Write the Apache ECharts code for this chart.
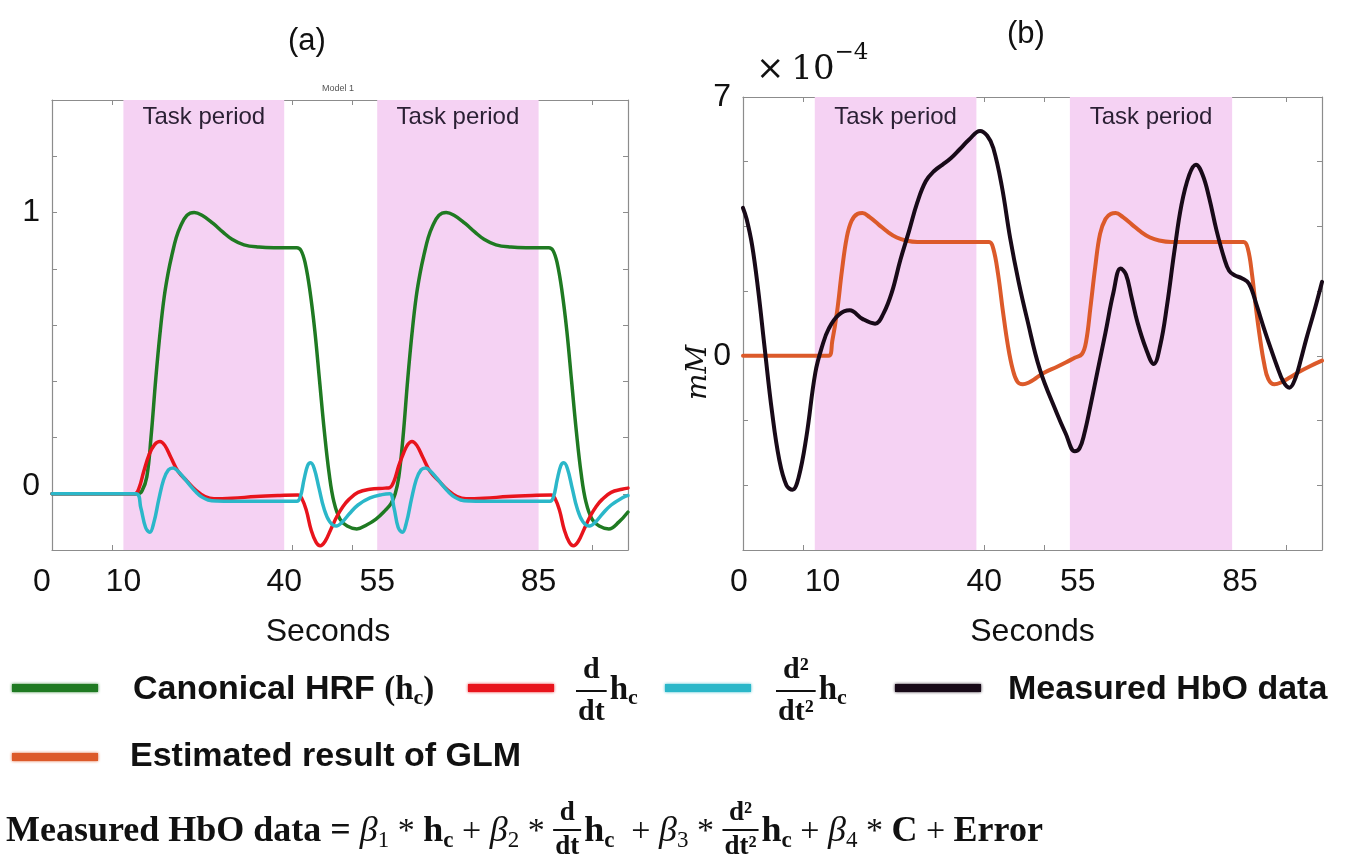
<!DOCTYPE html>
<html>
<head>
<meta charset="utf-8">
<script src="https://cdn.jsdelivr.net/npm/echarts@6/dist/echarts.min.js"></script>
<style>
  html, body { margin: 0; padding: 0; background: #fff; }
  #chart { width: 1350px; height: 865px; }
</style>
</head>
<body>
<div id="chart"></div>
<script>
// ---- data (x in the plots' own time units, 0..96) ----
const taskPeriods = [[11.9, 38.7], [54.2, 81.1]];
const tickLabelTexts = ['0', '10', '40', '55', '85'];
const tickLabelValuesA = [0, 11.9, 38.7, 54.2, 81.1];
const tickLabelValuesB = [0, 13.2, 40.0, 55.5, 82.4];
const xTickValues = [10, 20, 30, 40, 50, 60, 70, 80, 90];

// panel (a): regressors
const canonicalHrf = [
  [0, 0], [14.3, 0], [15.0, 0.01], [15.8, 0.06], [16.5, 0.2], [17.3, 0.41], [18.0, 0.57], [18.7, 0.70],
  [19.4, 0.79], [20.0, 0.85], [20.7, 0.91], [21.4, 0.95], [22.5, 0.99], [23.7, 1.0], [25.0, 0.99],
  [26.8, 0.962], [28.5, 0.93], [30.0, 0.905], [32.0, 0.885], [34.5, 0.877], [37, 0.875], [40.8, 0.875],
  [41.5, 0.865], [42.2, 0.82], [43.0, 0.72], [43.8, 0.58], [44.6, 0.40], [45.4, 0.22], [46.2, 0.07],
  [47.0, -0.03], [48.0, -0.09], [49.2, -0.115], [50.8, -0.125], [52.5, -0.11], [54.0, -0.09],
  [55.5, -0.06], [56.5, -0.035], [57.2, 0.0], [57.8, 0.06], [58.5, 0.2], [59.3, 0.41], [60.0, 0.57],
  [60.7, 0.70], [61.4, 0.79], [62.0, 0.85], [62.7, 0.91], [63.4, 0.95], [64.5, 0.99], [65.7, 1.0],
  [67.0, 0.99], [68.8, 0.962], [70.5, 0.93], [72.0, 0.905], [74.0, 0.885], [76.5, 0.877], [79, 0.875],
  [82.8, 0.875], [83.5, 0.865], [84.2, 0.82], [85.0, 0.72], [85.8, 0.58], [86.6, 0.40], [87.4, 0.22],
  [88.2, 0.07], [89.0, -0.03], [90.0, -0.09], [91.2, -0.115], [92.8, -0.125], [94.5, -0.1], [96, -0.065]
];
const firstDerivative = [
  [0, 0], [13.8, 0], [14.5, 0.02], [15.3, 0.08], [16.2, 0.14], [17.1, 0.175], [18.0, 0.186], [18.8, 0.172],
  [19.8, 0.13], [21.0, 0.08], [22.5, 0.045], [24.0, 0.012], [25.5, -0.01], [27, -0.018], [30, -0.016],
  [34, -0.01], [38, -0.006], [41.0, -0.004], [41.6, -0.015], [42.4, -0.06], [43.2, -0.13], [44.0, -0.172],
  [44.7, -0.185], [45.5, -0.17], [46.5, -0.125], [47.5, -0.08], [48.5, -0.045], [49.5, -0.02], [51, 0.005],
  [53, 0.016], [55.5, 0.02], [56.3, 0.022], [57.0, 0.045], [57.8, 0.1], [58.6, 0.145], [59.3, 0.175],
  [60.0, 0.186], [60.8, 0.172], [61.8, 0.13], [63.0, 0.08], [64.5, 0.045], [66.0, 0.012], [67.5, -0.01],
  [69, -0.018], [72, -0.016], [76, -0.01], [80, -0.006], [83.2, -0.004], [83.8, -0.015], [84.6, -0.06],
  [85.4, -0.13], [86.2, -0.172], [86.9, -0.185], [87.7, -0.17], [88.7, -0.125], [89.7, -0.08],
  [90.7, -0.045], [91.7, -0.02], [93.2, 0.005], [95, 0.016], [96, 0.02]
];
const secondDerivative = [
  [0, 0], [14.0, 0], [14.8, -0.05], [15.6, -0.12], [16.3, -0.137], [17.0, -0.1], [17.8, -0.02], [18.6, 0.05],
  [19.4, 0.085], [20.2, 0.092], [21.0, 0.08], [22.0, 0.056], [23.0, 0.03], [24.0, 0.006], [25.0, -0.012],
  [26.0, -0.022], [27.5, -0.026], [30, -0.027], [40.8, -0.027], [41.4, -0.01], [42.0, 0.05], [42.6, 0.1],
  [43.1, 0.11], [43.7, 0.09], [44.5, 0.02], [45.3, -0.05], [46.3, -0.1], [47.4, -0.115], [48.4, -0.1],
  [49.6, -0.07], [51, -0.04], [53, -0.015], [55, -0.003], [56.3, 0.0], [57.0, -0.05], [57.7, -0.12],
  [58.4, -0.137], [59.1, -0.1], [59.9, -0.02], [60.7, 0.05], [61.5, 0.085], [62.3, 0.092], [63.1, 0.08],
  [64.1, 0.056], [65.1, 0.03], [66.1, 0.006], [67.1, -0.012], [68.1, -0.022], [69.6, -0.026], [72, -0.027],
  [83.0, -0.027], [83.6, -0.01], [84.2, 0.05], [84.8, 0.1], [85.3, 0.11], [85.9, 0.09], [86.7, 0.02],
  [87.5, -0.05], [88.5, -0.1], [89.6, -0.115], [90.6, -0.1], [91.8, -0.07], [93.2, -0.04], [95, -0.015],
  [96, -0.006]
];

// panel (b): values in units of 1e-4 mM
const measuredHbO = [
  [0, 4.0], [0.6, 3.7], [1.5, 3.0], [2.5, 1.8], [3.6, 0.2], [4.8, -1.5], [6.0, -2.8], [7.2, -3.5],
  [8.2, -3.62], [9.2, -3.3], [10.5, -2.2], [12, -0.45], [13.2, 0.3], [14.2, 0.73], [15.8, 1.1],
  [17.7, 1.23], [19.8, 1.0], [21.9, 0.87], [23.3, 1.15], [24.7, 1.73], [26.1, 2.6], [27.5, 3.36],
  [28.9, 4.15], [30.3, 4.72], [31.7, 5.0], [33.1, 5.17], [34.5, 5.35], [35.9, 5.58], [37.5, 5.85],
  [39.3, 6.08], [40.5, 5.95], [41.5, 5.62], [42.9, 4.6], [44.3, 3.18], [45.7, 2.0], [47.1, 1.0],
  [49.2, -0.36], [52, -1.54], [53.5, -2.1], [55, -2.58], [55.8, -2.5], [56.6, -2.1], [57.6, -1.36],
  [58.8, -0.4], [60.1, 0.63], [61.4, 1.7], [62.6, 2.36], [63.5, 2.2], [64.4, 1.6], [65.4, 0.91],
  [66.8, 0.2], [68.1, -0.22], [69.2, 0.3], [70.3, 1.36], [71.5, 2.8], [72.7, 4.08], [74.0, 4.9],
  [75.1, 5.17], [76.2, 4.9], [77.3, 4.27], [78.5, 3.4], [79.8, 2.63], [80.6, 2.3], [81.5, 2.18],
  [82.7, 2.1], [83.9, 1.95], [85.2, 1.35], [86.4, 0.73], [87.5, 0.2], [88.5, -0.26], [89.6, -0.7],
  [90.6, -0.86], [91.6, -0.6], [92.5, -0.1], [93.4, 0.46], [94.7, 1.2], [96, 2.0]
];
const glmEstimate = [
  [0, 0], [14.2, 0], [14.8, 0.4], [15.6, 1.2], [16.4, 2.3], [17.2, 3.2], [18.0, 3.65], [19.0, 3.84],
  [19.8, 3.86], [21, 3.75], [22.5, 3.55], [24, 3.35], [25.5, 3.2], [27, 3.12], [28.9, 3.08], [35, 3.08],
  [40.8, 3.08], [41.5, 2.9], [42.3, 2.2], [43.1, 1.2], [43.9, 0.3], [44.7, -0.35], [45.5, -0.7],
  [46.4, -0.77], [47.4, -0.72], [48.6, -0.6], [50, -0.45], [52, -0.3], [53.5, -0.18], [55, -0.05],
  [56.2, 0.05], [56.9, 0.4], [57.6, 1.3], [58.4, 2.4], [59.2, 3.3], [60.1, 3.7], [61.0, 3.84],
  [61.8, 3.86], [63.0, 3.75], [64.5, 3.55], [66.0, 3.35], [67.5, 3.2], [69.0, 3.12], [71, 3.08],
  [77, 3.08], [83.0, 3.08], [83.7, 2.9], [84.4, 2.2], [85.0, 1.36], [85.7, 0.5], [86.4, -0.2],
  [87.1, -0.63], [88.1, -0.77], [89.2, -0.72], [90.5, -0.6], [92, -0.45], [94, -0.28], [96, -0.13]
];

// ---- style ----
const SANS = "'Liberation Sans', Arial, sans-serif";
const SERIF = "'Liberation Serif', 'Times New Roman', serif";
const SERIF_MATH = "'DejaVu Serif', serif";
const AXIS_GRAY = '#8c8c8c';
const SHADE = '#f5d2f3';
const C_GREEN = '#1f7a22';
const C_RED = '#e8141c';
const C_CYAN = '#2bb7c9';
const C_BLACK = '#180a18';
const C_ORANGE = '#dc5a2a';

const taskAreas = taskPeriods.map(([a, b]) => [{ xAxis: a }, { xAxis: b }]);

function shiftPad(px) {
  return px < 0 ? [0, -2 * px, 0, 0] : [0, 0, 0, 2 * px];
}

function bottomAxis(gridIndex, labelValues, zeroShift, nameShift) {
  const base = { fontSize: 32, fontFamily: SANS, color: '#111' };
  return {
    type: 'value', gridIndex, position: 'bottom', min: 0, max: 96, interval: 10,
    axisLine: { show: true, onZero: false, lineStyle: { color: AXIS_GRAY, width: 1.2 } },
    axisTick: { show: true, inside: true, length: 5, customValues: xTickValues, lineStyle: { color: AXIS_GRAY } },
    axisLabel: Object.assign({
      show: true, customValues: labelValues, margin: 16,
      formatter: (v) => {
        const i = labelValues.findIndex(p => Math.abs(p - v) < 1e-6);
        return (i === 0 ? '{z|' : '{o|') + tickLabelTexts[i] + '}';
      },
      rich: { z: Object.assign({ padding: shiftPad(zeroShift) }, base), o: base }
    }, base),
    splitLine: { show: false },
    name: 'Seconds', nameLocation: 'middle', nameGap: 66,
    nameTextStyle: Object.assign({ padding: shiftPad(nameShift) }, base)
  };
}

function topAxis(gridIndex) {
  return {
    type: 'value', gridIndex, position: 'top', min: 0, max: 96, interval: 10,
    axisLine: { show: true, onZero: false, lineStyle: { color: AXIS_GRAY, width: 1.2 } },
    axisTick: { show: true, inside: true, length: 5, lineStyle: { color: AXIS_GRAY } },
    axisLabel: { show: false }, splitLine: { show: false }
  };
}

function sideAxis(gridIndex, position, min, max, interval, labelValues, zeroLift, extra) {
  return Object.assign({
    type: 'value', gridIndex, position, min, max, interval,
    axisLine: { show: true, onZero: false, lineStyle: { color: AXIS_GRAY, width: 1.2 } },
    axisTick: { show: true, inside: true, length: 5, lineStyle: { color: AXIS_GRAY } },
    axisLabel: labelValues ? {
      show: true, customValues: labelValues, margin: 12,
      fontSize: 32, fontFamily: SANS, color: '#111',
      formatter: (v) => (Math.abs(v) < 1e-9 ? '{up|0}' : String(Math.round(v))),
      rich: { up: { fontSize: 32, fontFamily: SANS, color: '#111', padding: [0, 0, 2 * zeroLift, 0] } }
    } : { show: false },
    splitLine: { show: false }
  }, extra || {});
}

function lineSeries(name, data, color, xi, yi, width, areaDist) {
  const s = {
    name, type: 'line', data, xAxisIndex: xi, yAxisIndex: yi,
    showSymbol: false, symbol: 'none', smooth: 0.4,
    lineStyle: { color, width, cap: 'round', join: 'round' }, itemStyle: { color }, z: 3, silent: true
  };
  if (areaDist !== undefined) {
    s.markArea = {
      silent: true,
      itemStyle: { color: SHADE },
      label: { show: true, position: 'insideTop', distance: areaDist, fontSize: 24, fontFamily: SANS, color: '#2a1f33' },
      data: taskAreas.map(a => [Object.assign({ name: 'Task period' }, a[0]), a[1]])
    };
  }
  return s;
}

// ---- text layout helpers for legend and formula ----
const mctx = document.createElement('canvas').getContext('2d');
function fontCss(f) { return `${f.style || 'normal'} ${f.weight || 'normal'} ${f.size}px ${f.family}`; }
function measure(str, f) { mctx.font = fontCss(f); return mctx.measureText(str).width; }
function textEl(str, f, x, y, align) {
  return {
    type: 'text', x, y, silent: true,
    style: { text: str, fontSize: f.size, fontFamily: f.family, fontWeight: f.weight || 'normal', fontStyle: f.style || 'normal', fill: '#111', align: align || 'left', verticalAlign: 'middle' }
  };
}
// tokens: {t, f} | {sub, f, dy} | {frac:[num, den], f, dy, bar}
function layoutRun(tokens, x0, cy) {
  const els = [];
  let x = x0;
  tokens.forEach(tok => {
    if (tok.t !== undefined) {
      els.push(textEl(tok.t, tok.f, x, cy));
      x += measure(tok.t, tok.f);
    } else if (tok.sub !== undefined) {
      els.push(textEl(tok.sub, tok.f, x, cy + tok.dy));
      x += measure(tok.sub, tok.f);
    } else if (tok.frac) {
      const w = Math.max(measure(tok.frac[0], tok.f), measure(tok.frac[1], tok.f)) + 4;
      els.push(textEl(tok.frac[0], tok.f, x + w / 2, cy + tok.bar - tok.dy, 'center'));
      els.push(textEl(tok.frac[1], tok.f, x + w / 2, cy + tok.bar + tok.dy, 'center'));
      els.push({ type: 'rect', silent: true, shape: { x, y: cy + tok.bar - 1, width: w, height: 2 }, style: { fill: '#111' } });
      x += w + 3;
    }
  });
  return els;
}
function legendSwatch(color, x, cy) {
  return { type: 'rect', silent: true, shape: { x, y: cy - 4, width: 86, height: 8 }, style: { fill: color, shadowBlur: 3, shadowColor: color } };
}

const fLegend = { size: 34, family: SANS, weight: 'bold' };
const fMathL = { size: 33, family: SERIF, weight: 'bold' };
const fSubL = { size: 22, family: SERIF, weight: 'bold' };
const fFracL = { size: 30, family: SERIF, weight: 'bold' };
const fMain = { size: 36, family: SERIF, weight: 'bold' };
const fBeta = { size: 36, family: SERIF, style: 'italic' };
const fSub = { size: 23, family: SERIF, weight: 'bold' };
const fSubI = { size: 23, family: SERIF };
const fFrac = { size: 27, family: SERIF, weight: 'bold' };
const fOp = { size: 34, family: SERIF };

const hc = (fh, fs, dy) => [{ t: 'h', f: fh }, { sub: 'c', f: fs, dy }];

const legendEls = [
  legendSwatch(C_GREEN, 12, 688),
  ...layoutRun([{ t: 'Canonical HRF ', f: fLegend }, { t: '(h', f: fMathL }, { sub: 'c', f: fSubL, dy: 8 }, { t: ')', f: fMathL }], 133, 690),
  legendSwatch(C_RED, 468, 688),
  ...layoutRun([{ frac: ['d', 'dt'], f: fFracL, dy: 21, bar: 1 }, ...hc(fMathL, fSubL, 8)], 576, 690),
  legendSwatch(C_CYAN, 665, 688),
  ...layoutRun([{ frac: ['d²', 'dt²'], f: fFracL, dy: 21, bar: 1 }, ...hc(fMathL, fSubL, 8)], 776, 690),
  legendSwatch(C_BLACK, 895, 688),
  ...layoutRun([{ t: 'Measured HbO data', f: fLegend }], 1008, 690),
  legendSwatch(C_ORANGE, 12, 757),
  ...layoutRun([{ t: 'Estimated result of GLM', f: fLegend }], 130, 757)
];

const formulaEls = layoutRun([
  { t: 'Measured HbO data = ', f: fMain },
  { t: 'β', f: fBeta }, { sub: '1', f: fSubI, dy: 9 }, { t: ' * ', f: fOp }, ...hc(fMain, fSub, 9), { t: ' + ', f: fOp },
  { t: 'β', f: fBeta }, { sub: '2', f: fSubI, dy: 9 }, { t: ' * ', f: fOp },
  { frac: ['d', 'dt'], f: fFrac, dy: 17, bar: -2 }, ...hc(fMain, fSub, 9), { t: '  + ', f: fOp },
  { t: 'β', f: fBeta }, { sub: '3', f: fSubI, dy: 9 }, { t: ' * ', f: fOp },
  { frac: ['d²', 'dt²'], f: fFrac, dy: 17, bar: -2 }, ...hc(fMain, fSub, 9), { t: ' + ', f: fOp },
  { t: 'β', f: fBeta }, { sub: '4', f: fSubI, dy: 9 }, { t: ' * ', f: fOp }, { t: 'C', f: fMain }, { t: ' + ', f: fOp },
  { t: 'Error', f: fMain }
], 6, 832);

const exponentEls = layoutRun([
  { t: '×\u200910', f: { size: 34, family: SERIF_MATH } },
  { sub: '−4', f: { size: 23, family: SERIF_MATH }, dy: -17 }
], 756, 70);

const chart = echarts.init(document.getElementById('chart'));
chart.setOption({
  animation: false,
  backgroundColor: '#fff',
  title: [
    { text: '(a)', left: 288, top: 26, padding: 0, textStyle: { fontSize: 31, fontWeight: 'normal', fontFamily: SANS, color: '#111' } },
    { text: '(b)', left: 1007, top: 19, padding: 0, textStyle: { fontSize: 31, fontWeight: 'normal', fontFamily: SANS, color: '#111' } },
    { text: 'Model 1', left: 322, top: 84, padding: 0, textStyle: { fontSize: 9, fontWeight: 'normal', fontFamily: SANS, color: '#555' } }
  ],
  grid: [
    { left: 52, top: 100, width: 576, height: 450 },
    { left: 743, top: 97, width: 579, height: 453 }
  ],
  xAxis: [
    bottomAxis(0, tickLabelValuesA, -10, -12),
    topAxis(0),
    bottomAxis(1, tickLabelValuesB, -4, 0),
    topAxis(1)
  ],
  yAxis: [
    sideAxis(0, 'left', -0.2, 1.4, 0.2, [0, 1], 8),
    sideAxis(0, 'right', -0.2, 1.4, 0.2, null, 0),
    sideAxis(1, 'left', -5.25, 7, 1.75, [0, 7], 0, {
      name: 'mM', nameLocation: 'middle', nameRotate: 90, nameGap: 30, nameMoveOverlap: false,
      nameTextStyle: { fontSize: 28, fontFamily: SERIF_MATH, fontStyle: 'italic', color: '#111', padding: [0, 0, 0, -98] }
    }),
    sideAxis(1, 'right', -5.25, 7, 1.75, null, 0)
  ],
  series: [
    lineSeries('Canonical HRF', canonicalHrf, C_GREEN, 0, 0, 3.5, 5),
    lineSeries('d/dt h_c', firstDerivative, C_RED, 0, 0, 3.5),
    lineSeries('d2/dt2 h_c', secondDerivative, C_CYAN, 0, 0, 3.5),
    lineSeries('Estimated result of GLM', glmEstimate, C_ORANGE, 2, 2, 4, 8),
    lineSeries('Measured HbO data', measuredHbO, C_BLACK, 2, 2, 4)
  ],
  graphic: { elements: [...legendEls, ...formulaEls, ...exponentEls] }
});
</script>
</body>
</html>
